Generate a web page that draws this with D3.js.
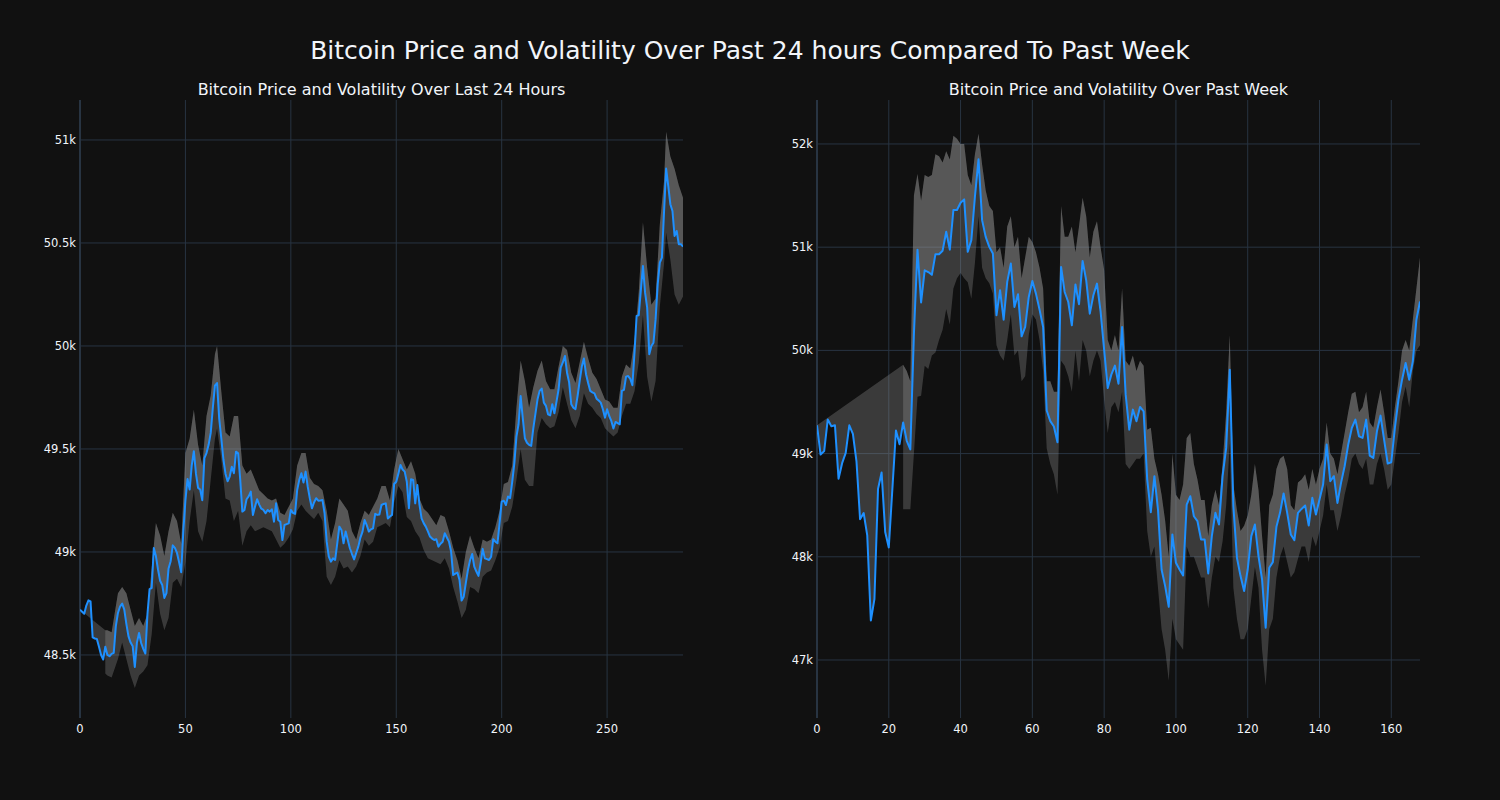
<!DOCTYPE html>
<html><head><meta charset="utf-8">
<script src="https://cdn.jsdelivr.net/npm/d3@7/dist/d3.min.js"></script>
<style>body{margin:0;background:#111111;} svg{display:block}</style>
</head><body><svg id="c" width="1500" height="800"></svg>
<script>
// ---------- DATA ----------
const mainTitle = "Bitcoin Price and Volatility Over Past 24 hours Compared To Past Week";
const dayTitle = "Bitcoin Price and Volatility Over Last 24 Hours";
const weekTitle = "Bitcoin Price and Volatility Over Past Week";

const dayPrice = [48720,48710,48700,48740,48765,48760,48585,48580,48578,48540,48500,48478,48540,48500,48494,48505,48510,48640,48704,48735,
48749,48720,48650,48590,48560,48542,48442,48560,48607,48558,48530,48507,48700,48820,48825,49019,48980,48914,48860,48840,
48777,48800,48920,48955,49032,49020,48995,48950,48901,49100,49250,49354,49303,49420,49489,49380,49311,49303,49251,49456,
49480,49520,49578,49700,49807,49820,49650,49553,49450,49380,49343,49366,49414,49382,49487,49479,49350,49196,49204,49256,
49270,49293,49180,49220,49256,49230,49210,49204,49188,49204,49196,49207,49147,49236,49155,49147,49058,49131,49135,49139,
49204,49190,49185,49300,49350,49382,49337,49390,49317,49260,49212,49240,49261,49249,49250,49252,49188,49050,48977,48953,
48969,48961,49040,49123,49107,49042,49099,49058,49018,48990,48964,48995,49026,49070,49099,49155,49130,49099,49110,49115,
49185,49180,49182,49228,49233,49236,49163,49172,49180,49330,49341,49380,49422,49400,49390,49341,49212,49353,49350,49236,
49325,49230,49163,49140,49123,49100,49075,49065,49058,49062,49026,49040,49050,49091,49070,49050,49002,48888,48895,48900,
48864,48764,48783,48850,48913,48960,48990,48929,48905,48884,48945,49015,48969,48965,48961,48977,49062,49050,49042,49139,
49244,49249,49228,49269,49261,49340,49430,49560,49620,49757,49650,49552,49530,49520,49515,49600,49670,49741,49782,49793,
49725,49709,49668,49663,49717,49673,49730,49790,49895,49920,49951,49870,49822,49717,49700,49693,49757,49830,49900,49939,
49863,49820,49782,49775,49770,49744,49735,49725,49693,49652,49693,49660,49636,49599,49631,49625,49620,49782,49787,49851,
49854,49840,49809,49968,50146,50149,50270,50388,50260,50186,49960,50000,50016,50129,50300,50405,50429,50650,50861,50777,
50688,50655,50534,50558,50494,50494,50482];

const dayBandX = [12,13,15,18,20,22,24,26,28,30,32,34,36,38,40,42,44,46,48,50,52,54,56,58,60,62,64,65,67,69,71,73,75,77,79,81,83,85,87,89,
91,93,95,97,99,101,103,105,107,109,111,113,115,117,119,121,123,125,127,129,131,133,135,137,139,141,143,145,147,149,
151,153,155,157,159,161,163,165,167,169,171,173,175,177,179,181,183,185,187,189,191,193,195,197,199,201,203,205,207,209,
211,213,215,217,219,221,223,225,227,229,231,233,235,237,239,241,243,245,247,249,251,253,255,257,259,261,263,265,267,269,
271,273,275,277,278,280,282,284,286];
const dayUpper = [48620,48620,48610,48800,48830,48800,48720,48640,48680,48640,48700,48920,49140,49080,48980,49100,49190,49150,49040,49480,
49550,49690,49520,49420,49660,49760,49960,50000,49780,49580,49560,49660,49660,49420,49380,49400,49350,49300,49280,49260,
49250,49260,49190,49180,49220,49260,49420,49480,49480,49360,49330,49320,49300,49200,49060,49140,49260,49230,49200,49100,
49060,49140,49200,49180,49220,49260,49320,49320,49250,49400,49500,49450,49400,49440,49380,49260,49210,49190,49160,49130,
49180,49170,49100,49020,48960,48870,49000,49080,49020,48970,49060,49050,49060,49120,49200,49330,49340,49420,49700,49930,
49830,49700,49800,49880,49930,49830,49790,49790,49900,50000,49980,49870,49820,49920,50020,49940,49870,49840,49790,49740,
49730,49700,49700,49850,49910,49890,50030,50260,50600,50380,50200,50230,50590,50800,51040,50920,50860,50780,50720];
const dayLower = [48410,48400,48390,48480,48560,48480,48400,48340,48400,48420,48450,48600,48850,48700,48620,48680,48850,48870,48830,48950,
49150,49300,49100,49050,49150,49350,49550,49600,49450,49260,49250,49150,49200,49030,49100,49130,49100,49110,49120,49110,
49100,49060,49020,49040,49070,49110,49200,49230,49200,49180,49160,49190,49150,48880,48840,48880,48960,48920,48930,48900,
48930,48980,49060,49030,49050,49120,49130,49140,49120,49240,49320,49290,49170,49150,49100,49070,49010,48970,48960,48950,
48940,48970,48920,48830,48760,48680,48720,48830,48820,48800,48880,48900,48910,48960,49020,49140,49150,49220,49350,49500,
49350,49320,49320,49580,49650,49620,49600,49610,49680,49800,49720,49640,49600,49660,49770,49720,49700,49670,49650,49600,
49580,49560,49580,49660,49720,49720,49780,49920,50150,49850,49730,49830,50190,50400,50550,50420,50250,50200,50240];

const weekPrice = [49274,48991,49024,49331,49265,49274,48757,48907,49007,49274,49191,48924,48364,48424,48207,47383,47590,48657,48817,48240,
48090,48657,49224,49091,49301,49124,49041,50159,50976,50465,50776,50759,50732,50932,50932,50966,51149,50976,51360,51360,
51430,51463,50955,51068,51489,51851,51262,51100,51003,50939,50340,50583,50298,50664,50841,50421,50544,50136,50227,50518,
50673,50550,50395,50227,49418,49314,49262,49110,50809,50566,50469,50243,50638,50447,50867,50680,50356,50534,50647,50380,
50006,49635,49765,49852,49677,50226,49571,49232,49426,49313,49452,49410,48748,48432,48781,48458,47877,47716,47516,48216,
47942,47877,47819,48506,48587,48393,48345,48168,48168,47839,48200,48426,48313,48781,49055,49813,48490,47990,47813,47668,
47877,48200,48313,48006,47780,47313,47893,47948,48290,48426,48613,48426,48216,48161,48426,48464,48497,48303,48571,48410,
48555,48700,49087,48732,48781,48522,48716,48877,49087,49248,49329,49168,49152,49329,48981,48958,49216,49368,49135,48903,
48916,49248,49523,49716,49877,49716,49894,50297,50474];

const weekBandStart = 24;
const weekUpper = [49860,49800,49700,51500,51710,51450,51700,51680,51700,51900,51880,51820,51930,51850,52080,52050,52000,52000,51700,51600,
51900,52100,51800,51550,51400,51350,50950,51000,50800,51200,51300,51000,51100,50700,50900,51100,51050,50950,50800,50600,
49700,49700,49600,49600,51400,51100,51100,51200,50950,51200,51480,51300,50900,51150,51250,51000,50780,50100,50000,50150,
50000,50600,49900,49850,49950,49800,49900,49850,49230,49250,48950,48800,48600,48350,48000,49000,48600,48550,48700,49150,
49200,48900,48750,48550,48550,48200,48500,48650,48500,48900,49400,50150,48700,48450,48250,48300,48400,48600,48900,48650,
48200,47800,48500,48600,48850,48950,48980,48850,48500,48450,48720,48750,48800,48650,48850,48700,48850,48950,49300,49000,
48950,48800,49000,49200,49400,49580,49600,49400,49450,49600,49300,49250,49450,49620,49400,49150,49150,49450,49700,50000,
50100,50000,50300,50600,50900];
const weekLower = [48460,48460,48460,49000,49550,49560,49850,49820,49950,49980,50100,50200,50400,50250,50600,50700,50750,50700,50660,50500,
50850,51300,50800,50700,50650,50550,50050,49950,49900,50100,50350,49950,50000,49700,49750,50150,50350,50300,50100,49800,
49050,48900,48800,48600,49900,49850,49750,49600,50000,49700,50100,50000,49750,49900,50000,49900,49520,49200,49450,49500,
49400,49600,48900,48850,48900,48950,48950,49000,48250,48000,48100,47700,47300,47100,46800,47400,47200,47150,47100,48100,
48000,48000,47900,47800,47800,47500,47800,48000,47950,48150,48500,49100,47700,47400,47200,47200,47300,47600,47900,47700,
47100,46750,47300,47400,47800,48000,48100,47950,47800,47850,47980,48100,48100,47950,48200,48100,48250,48400,48700,48450,
48450,48250,48400,48600,48750,48950,49000,48900,48850,48950,48700,48700,48900,49000,48850,48650,48700,48950,49200,49500,
49650,49450,49800,50000,50050];

const dayXTicks = [0,50,100,150,200,250];
const dayYTicks = [48500,49000,49500,50000,50500,51000];
const weekXTicks = [0,20,40,60,80,100,120,140,160];
const weekYTicks = [47000,48000,49000,50000,51000,52000];
const dayYRange = [48194,51194];
const weekYRange = [46438,52426];

// ---------- DRAW ----------
const svg = d3.select("#c");
const FONT = "'DejaVu Sans', Verdana, sans-serif";
const TXT = "#f2f5fa";
const GRID = "#283442";
const PLOT_TOP = 100, PLOT_BOT = 718;
const fmt = d3.format("~s");

svg.append("rect").attr("width",1500).attr("height",800).attr("fill","#111111");

svg.append("text").attr("x",750).attr("y",59).attr("text-anchor","middle")
  .attr("font-family",FONT).attr("font-size",25).attr("fill",TXT).text(mainTitle);

function panel(opt){
  const n = opt.price.length;
  const x = d3.scaleLinear().domain([0,n-1]).range([opt.x0,opt.x1]);
  const y = d3.scaleLinear().domain(opt.yRange).range([PLOT_BOT,PLOT_TOP]);
  const g = svg.append("g");
  // grid
  g.selectAll(".hg").data(opt.yTicks).join("line")
    .attr("x1",opt.x0).attr("x2",opt.x1).attr("y1",d=>y(d)).attr("y2",d=>y(d))
    .attr("stroke",GRID).attr("stroke-width",1);
  g.selectAll(".vg").data(opt.xTicks).join("line")
    .attr("x1",d=>x(d)).attr("x2",d=>x(d)).attr("y1",PLOT_TOP).attr("y2",PLOT_BOT)
    .attr("stroke",GRID).attr("stroke-width",d=>d===0?2:1);
  // tick labels
  g.selectAll(".yl").data(opt.yTicks).join("text")
    .attr("x",opt.x0-4).attr("y",d=>y(d)).attr("dy","0.35em").attr("text-anchor","end")
    .attr("font-family",FONT).attr("font-size",11.5).attr("fill",TXT).text(d=>fmt(d));
  g.selectAll(".xl").data(opt.xTicks).join("text")
    .attr("x",d=>x(d)).attr("y",PLOT_BOT+15).attr("text-anchor","middle")
    .attr("font-family",FONT).attr("font-size",11.5).attr("fill",TXT).text(d=>d);
  // subtitle
  g.append("text").attr("x",(opt.x0+opt.x1)/2).attr("y",95).attr("text-anchor","middle")
    .attr("font-family",FONT).attr("font-size",16).attr("fill",TXT).text(opt.title);

  const clip = "clip"+opt.id;
  svg.append("clipPath").attr("id",clip).append("rect")
    .attr("x",opt.x0).attr("y",PLOT_TOP).attr("width",opt.x1-opt.x0).attr("height",PLOT_BOT-PLOT_TOP);
  const pg = g.append("g").attr("clip-path",`url(#${clip})`);
  const band = opt.bandX.map((bx,i)=>({x:bx,u:opt.upper[i],l:opt.lower[i]}));
  const fill = "rgba(155,155,155,0.3)";
  // full band (lower to upper)
  const area = d3.area().x(d=>x(d.x)).y0(d=>y(d.l)).y1(d=>y(d.u));
  pg.append("path").attr("d",area(band)).attr("fill",fill);
  // upper band filled to price (tonexty style, gap closes back to first price)
  const poly = band.map(d=>({x:d.x,v:d.u}))
    .concat(opt.price.map((v,i)=>({x:i,v:v})).reverse());
  const line = d3.line().x(d=>x(d.x)).y(d=>y(d.v));
  pg.append("path").attr("d",line(poly)+"Z").attr("fill",fill);
  // price line
  const pline = d3.line().x((d,i)=>x(i)).y(d=>y(d));
  pg.append("path").attr("d",pline(opt.price))
    .attr("fill","none").attr("stroke","#1e90ff").attr("stroke-width",2).attr("stroke-linejoin","round");
}

panel({id:"d",x0:80,x1:683,price:dayPrice,bandX:dayBandX,upper:dayUpper,lower:dayLower,
  xTicks:dayXTicks,yTicks:dayYTicks,yRange:dayYRange,title:dayTitle});
panel({id:"w",x0:817,x1:1420,price:weekPrice,bandX:weekUpper.map((d,i)=>i+weekBandStart),upper:weekUpper,lower:weekLower,
  xTicks:weekXTicks,yTicks:weekYTicks,yRange:weekYRange,title:weekTitle});
</script></body></html>
